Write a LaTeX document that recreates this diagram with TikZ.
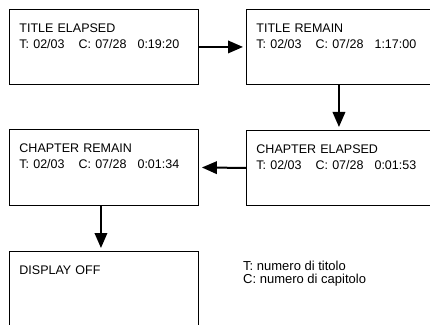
\documentclass[tikz,border=0pt]{standalone}
\usepackage{fontspec}
\setmainfont{Liberation Sans}
\usetikzlibrary{arrows.meta}

\tikzset{
  screen/.style={draw, line width=0.9pt, anchor=north west, text width=169pt,
    align=left, inner xsep=10pt, inner ysep=0pt, text height=23pt, text depth=52pt,
    font=\fontsize{12.5}{15.7}\selectfont},
  step arrow/.style={-{Triangle[length=15pt, width=12.5pt]}, line width=2pt, shorten >=3pt},
}

\begin{document}
\begin{tikzpicture}[x=1pt, y=1pt]
    \useasboundingbox (0, 0) rectangle (430, 324);

    % draw display boxes
    \node[screen] (titleelapsed) at (9, 315) {TITLE ELAPSED\\T: 02/03\hspace*{14pt}C: 07/28\hspace*{11pt}0:19:20};
    \node[screen] (titleremain) at (246, 315) {TITLE REMAIN\\T: 02/03\hspace*{14pt}C: 07/28\hspace*{11pt}1:17:00};
    \node[screen] (chapterelapsed) at (246, 194) {CHAPTER ELAPSED\\T: 02/03\hspace*{14pt}C: 07/28\hspace*{11pt}0:01:53};
    \node[screen] (chapterremain) at (9, 194.5) {CHAPTER REMAIN\\T: 02/03\hspace*{14pt}C: 07/28\hspace*{11pt}0:01:34};
    \node[screen] (displayoff) at (9, 73) {DISPLAY OFF};

    % draw legend
    \node[anchor=base west, align=left, inner sep=0pt, font=\fontsize{13}{13}\selectfont]
        (legend) at (243, 40.5) {T: numero di titolo\\C: numero di capitolo};

    % draw arrows
    \draw[step arrow] (titleelapsed.east) -- (titleremain.west);
    \draw[step arrow] ([xshift=-2pt]titleremain.south) -- ([xshift=-2pt]chapterelapsed.north);
    \draw[step arrow] (chapterelapsed.west) -- (chapterremain.east);
    \draw[step arrow] ([xshift=-3pt]chapterremain.south) -- ([xshift=-3pt]displayoff.north);
\end{tikzpicture}
\end{document}
